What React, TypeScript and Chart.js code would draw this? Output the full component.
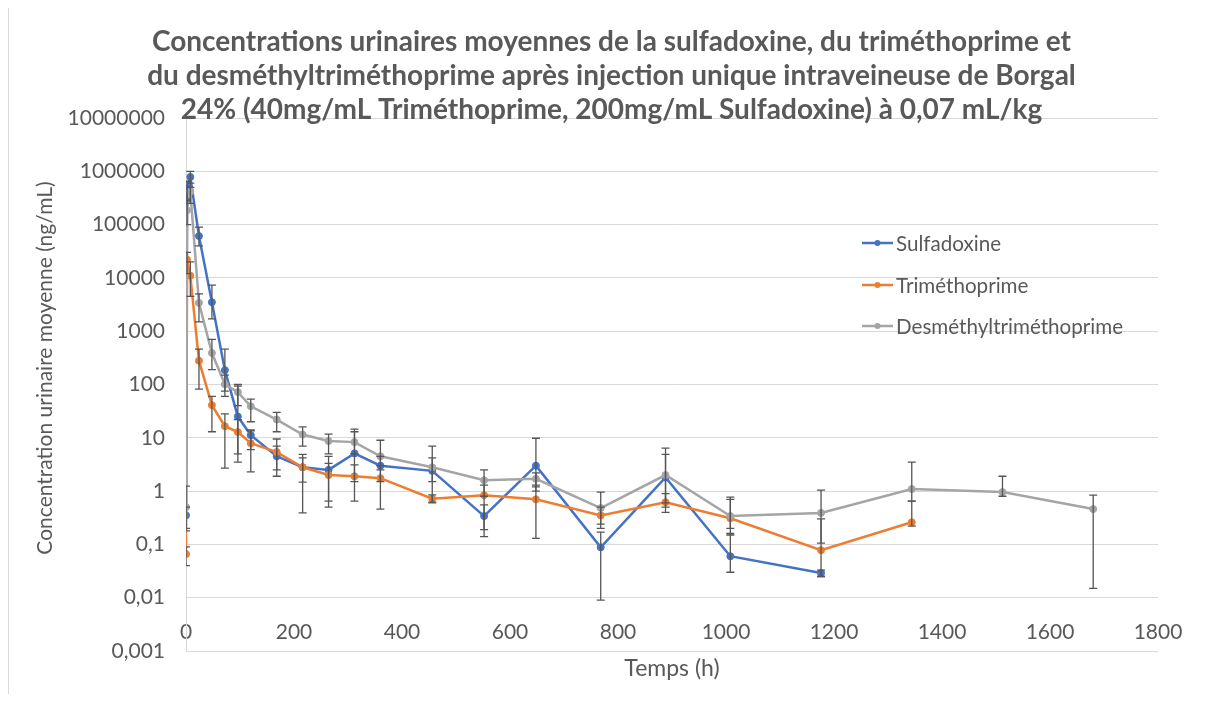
import React, { useEffect, useRef } from "react";
import { Chart, registerables } from "chart.js";

Chart.register(...registerables);

// ---------- DATA ----------
const timesH = [0, 2, 8, 24, 48, 72, 96, 120, 168, 216, 264, 312, 360, 456, 552, 648, 768, 888, 1008, 1176, 1344, 1512, 1680];

const sulfadoxine = [0.35, 480000, 780000, 61000, 3500, 186, 25, 11.2, 4.5, 2.8, 2.5, 5.1, 3.0, 2.4, 0.34, 3.0, 0.088, 1.8, 0.06, 0.029];
const sulfadoxineLow = [0.2, 300000, 500000, 40000, 1700, 75, 5, 6, 2.5, 0.39, 0.5, 1.5, 1.5, 0.62, 0.14, 1, 0.009, 0.5, 0.03, 0.025];
const sulfadoxineHigh = [0.5, 650000, 1000000, 90000, 7300, 460, 93, 14, 7, 4.9, 4.5, 13, 4.5, 4.2, 0.55, 9.8, 0.17, 4.9, 0.16, 0.033];

const trimethoprime = [0.066, 22000, 11000, 280, 41, 16.5, 12.8, 7.9, 5.4, 2.8, 2.0, 1.9, 1.75, 0.72, 0.84, 0.7, 0.35, 0.62, 0.31, 0.078, 0.26];
const trimethoprimeLow = [0.04, 12000, 4500, 82, 13, 2.7, 3.5, 2.3, 1.9, 1.47, 0.65, 0.65, 0.46, 0.6, 0.19, 0.13, 0.2, 0.4, 0.15, 0.025, 0.22];
const trimethoprimeHigh = [0.09, 30000, 20000, 460, 60, 28, 22, 13.5, 9.5, 4.2, 3.3, 3.1, 3, 0.85, 1.3, 1.3, 0.5, 0.9, 0.7, 0.3, 0.65];

const desmethyl = [0.5, 186000, 420000, 3400, 390, 101, 72, 39, 22, 11.5, 8.7, 8.3, 4.5, 2.8, 1.6, 1.7, 0.48, 2.0, 0.34, 0.39, 1.09, 0.96, 0.46];
const desmethylLow = [0.18, 100000, 250000, 1500, 190, 60, 40, 20, 13, 7, 5, 5, 2.5, 1.5, 0.8, 1.2, 0.24, 0.6, 0.2, 0.106, 0.65, 0.8, 0.015];
const desmethylHigh = [1.24, 280000, 600000, 5000, 700, 150, 100, 53, 30, 16, 11.7, 14.5, 9, 7, 2.5, 2.2, 0.96, 6.4, 0.77, 1.04, 3.5, 1.9, 0.84];

const yTickValues = [0.001, 0.01, 0.1, 1, 10, 100, 1000, 10000, 100000, 1000000, 10000000];
const yTickLabels = ["0,001", "0,01", "0,1", "1", "10", "100", "1000", "10000", "100000", "1000000", "10000000"];
const xTickValues = [0, 200, 400, 600, 800, 1000, 1200, 1400, 1600, 1800];
const xTickLabels = ["0", "200", "400", "600", "800", "1000", "1200", "1400", "1600", "1800"];

const titleLines = [
  "Concentrations urinaires moyennes de la sulfadoxine, du triméthoprime et",
  "du desméthyltriméthoprime après injection unique intraveineuse de Borgal",
  "24% (40mg/mL Triméthoprime, 200mg/mL Sulfadoxine) à 0,07 mL/kg",
];
const yTitle = "Concentration urinaire moyenne (ng/mL)";
const xTitle = "Temps (h)";

const seriesList = [
  { label: "Sulfadoxine", values: sulfadoxine, low: sulfadoxineLow, high: sulfadoxineHigh, color: "#4472C4" },
  { label: "Triméthoprime", values: trimethoprime, low: trimethoprimeLow, high: trimethoprimeHigh, color: "#ED7D31" },
  { label: "Desméthyltriméthoprime", values: desmethyl, low: desmethylLow, high: desmethylHigh, color: "#A5A5A5" },
];

// ---------- STYLE ----------
const FONT = "Lato, 'Open Sans', sans-serif";
const TEXT = "#595959";
const GRID = "#D9D9D9";

const overlayPlugin = {
  id: "overlay",
  afterDatasetsDraw(chart: any) {
    const ctx = chart.ctx;
    const xs = chart.scales.x;
    const ys = chart.scales.y;
    const area = chart.chartArea;
    ctx.save();
    ctx.beginPath();
    ctx.rect(area.left, area.top - 2, area.right - area.left, area.bottom - area.top + 4);
    ctx.clip();
    ctx.strokeStyle = "#555555";
    ctx.lineWidth = 1.3;
    seriesList.forEach((s) => {
      s.values.forEach((_v, j) => {
        const x = xs.getPixelForValue(timesH[j]);
        const y1 = ys.getPixelForValue(s.low[j]);
        const y2 = ys.getPixelForValue(s.high[j]);
        ctx.beginPath();
        ctx.moveTo(x, y1);
        ctx.lineTo(x, y2);
        ctx.moveTo(x - 4, y1);
        ctx.lineTo(x + 4, y1);
        ctx.moveTo(x - 4, y2);
        ctx.lineTo(x + 4, y2);
        ctx.stroke();
      });
    });
    ctx.restore();
  },
  afterDraw(chart: any) {
    const ctx = chart.ctx;
    ctx.save();
    // chart border (left)
    ctx.strokeStyle = GRID;
    ctx.lineWidth = 1;
    ctx.beginPath();
    ctx.moveTo(0.5, 0);
    ctx.lineTo(0.5, chart.height);
    ctx.stroke();

    // title
    ctx.fillStyle = TEXT;
    ctx.font = `bold 28px ${FONT}`;
    ctx.textAlign = "center";
    ctx.textBaseline = "middle";
    const tx = chart.width / 2 + 4;
    titleLines.forEach((line, i) => ctx.fillText(line, tx, 34 + i * 34));

    // y title
    ctx.font = `21px ${FONT}`;
    ctx.save();
    ctx.translate(37, 360);
    ctx.rotate(-Math.PI / 2);
    ctx.fillText(yTitle, 0, 0);
    ctx.restore();

    // legend
    const lx = 854;
    const rows = [235, 277, 318];
    ctx.font = `20.6px ${FONT}`;
    ctx.textAlign = "left";
    seriesList.forEach((s, i) => {
      const y = rows[i];
      ctx.strokeStyle = s.color;
      ctx.lineWidth = 2.5;
      ctx.beginPath();
      ctx.moveTo(lx, y);
      ctx.lineTo(lx + 31, y);
      ctx.stroke();
      ctx.fillStyle = s.color;
      ctx.beginPath();
      ctx.arc(lx + 15.5, y, 3, 0, Math.PI * 2);
      ctx.fill();
      ctx.fillStyle = TEXT;
      ctx.fillText(s.label, lx + 34, y + 1);
    });
    ctx.restore();
  },
};

export default function App() {
  const ref = useRef<HTMLCanvasElement | null>(null);

  useEffect(() => {
    if (!ref.current) return;
    const order = [2, 1, 0];
    const chart = new Chart(ref.current, {
      type: "line",
      data: {
        datasets: seriesList.map((s, i) => ({
          label: s.label,
          data: s.values.map((v, j) => ({ x: timesH[j], y: v })),
          borderColor: s.color,
          backgroundColor: s.color,
          pointBackgroundColor: s.color,
          pointBorderColor: s.color,
          pointRadius: 3.5,
          pointBorderWidth: 1,
          borderWidth: 2.5,
          tension: 0,
          fill: false,
          order: order[i],
        })),
      },
      options: {
        animation: false,
        responsive: false,
        maintainAspectRatio: false,
        layout: { padding: { left: 0, right: 49, top: 110, bottom: 0 } },
        plugins: {
          legend: { display: false },
          title: { display: false },
          tooltip: { enabled: false },
        },
        scales: {
          x: {
            type: "linear",
            min: 0,
            max: 1800,
            afterBuildTicks: (s: any) => {
              s.ticks = xTickValues.map((v) => ({ value: v }));
            },
            afterFit: (s: any) => {
              s.height = 43;
            },
            grid: { display: false, drawTicks: false },
            border: { display: false },
            ticks: {
              mirror: true,
              padding: 6,
              color: TEXT,
              font: { family: FONT, size: 21 },
              maxRotation: 0,
              autoSkip: false,
              callback: (value: any) => {
                const k = xTickValues.indexOf(Number(value));
                return k >= 0 ? xTickLabels[k] : "";
              },
            },
            title: {
              display: true,
              text: xTitle,
              color: TEXT,
              font: { family: FONT, size: 23 },
              padding: { top: 0, bottom: 12 },
            },
          },
          y: {
            type: "logarithmic",
            min: 0.001,
            max: 10000000,
            afterBuildTicks: (s: any) => {
              s.ticks = yTickValues.map((v) => ({ value: v }));
            },
            afterFit: (s: any) => {
              s.width = 178;
            },
            grid: { color: GRID, lineWidth: 1, drawTicks: false },
            border: { display: true, color: GRID, width: 1 },
            ticks: {
              padding: 21,
              color: TEXT,
              font: { family: FONT, size: 21 },
              autoSkip: false,
              callback: (value: any) => {
                const k = yTickValues.findIndex((t) => Math.abs(Math.log10(t) - Math.log10(Number(value))) < 1e-6);
                return k >= 0 ? yTickLabels[k] : "";
              },
            },
          },
        },
      },
      plugins: [overlayPlugin],
    });
    return () => chart.destroy();
  }, []);

  return (
    <div style={{ width: 1199, height: 686 }}>
      <canvas ref={ref} width={1199} height={686} style={{ display: "block", width: 1199, height: 686 }} />
    </div>
  );
}
